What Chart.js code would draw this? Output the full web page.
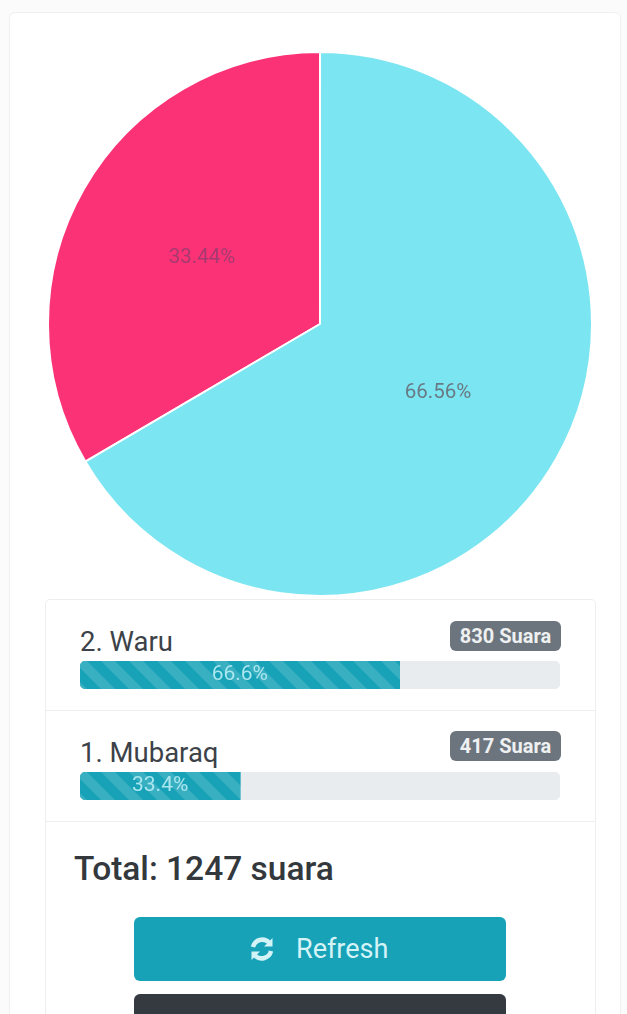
<!DOCTYPE html>
<html lang="id">
<head>
<meta charset="utf-8">
<title>Suara</title>
<script src="https://cdn.jsdelivr.net/npm/chart.js@4"></script>
<style>
  html, body { margin: 0; height: 1014px; overflow: hidden; background: #fbfbfb; font-family: Roboto, sans-serif; color: #343a40; }
  body { position: relative; width: 627px; }
  .card { position: absolute; left: 9px; top: 12px; width: 610px; height: 1010px; background: #fff; border: 1px solid #f0f0f0; border-radius: 6px; }
  .list { position: absolute; left: 45px; top: 599px; width: 549px; height: 440px; border: 1px solid #eeeeee; border-radius: 5px; }
  .sep { position: absolute; left: 45px; width: 550px; height: 1px; background: #eeeeee; }
  canvas { position: absolute; display: block; }
  .name { position: absolute; left: 80px; font-size: 27.5px; line-height: 30px; color: #3c4248; }
  .badge { position: absolute; left: 450px; width: 111px; height: 30px; line-height: 30px; background: #6c757d; border-radius: 6px; color: #eef0f1; font-size: 20px; font-weight: 700; text-align: center; white-space: nowrap; }
  .total { position: absolute; left: 74px; top: 850px; font-size: 33.5px; line-height: 38px; font-weight: 500; color: #33383d; }
  .btn { position: absolute; left: 134px; width: 372px; border-radius: 6px; }
  .refresh { top: 917px; height: 64px; background: #17a2b8; color: #d4f3f7; font-size: 27px; line-height: 64px; }
  .refresh span { position: absolute; left: 162px; }
  .refresh svg { position: absolute; left: 115px; top: 19px; }
  .dark { top: 994px; height: 50px; background: #343a40; }
</style>
</head>
<body>
<div class="card"></div>
<canvas id="pie" width="546" height="546" style="left:47px;top:51px;width:546px;height:546px"></canvas>

<div class="list"></div>
<div class="sep" style="top:710px"></div>
<div class="sep" style="top:821px"></div>

<div class="name" style="top:627px">2. Waru</div>
<div class="badge" style="top:621px">830 Suara</div>
<canvas id="bar0" width="480" height="28" style="left:80px;top:661px;width:480px;height:28px"></canvas>

<div class="name" style="top:738px">1. Mubaraq</div>
<div class="badge" style="top:731px">417 Suara</div>
<canvas id="bar1" width="480" height="28" style="left:80px;top:772px;width:480px;height:28px"></canvas>

<div class="total">Total: 1247 suara</div>
<div class="btn refresh">
  <svg width="26" height="26" viewBox="0 0 26 26" fill="none" stroke="#d4f3f7" stroke-width="4.5">
    <path d="M4 11 A9.5 9.5 0 0 1 20 6.5"/>
    <path d="M22 15 A9.5 9.5 0 0 1 6 19.5"/>
    <path d="M23.5 2 V10.5 H15 Z" fill="#d4f3f7" stroke="none"/>
    <path d="M2.5 24 V15.5 H11 Z" fill="#d4f3f7" stroke="none"/>
  </svg>
  <span>Refresh</span>
</div>
<div class="btn dark"></div>

<script>
const pieLabels = ['1. Mubaraq', '2. Waru'];
const pieVotes = [417, 830];
const pieColors = ['#fb3376', '#7ce5f2'];
const pieLabelColors = ['rgba(130,60,110,0.7)', 'rgba(102,110,120,0.9)'];

const barPercents = [66.6, 33.4];
const barNames = ['2. Waru', '1. Mubaraq'];
const trackValues = [100];

// label each slice with its share, at the middle of the arc
const sliceLabels = {
  id: 'sliceLabels',
  afterDatasetsDraw(chart) {
    const ctx = chart.ctx;
    const total = pieVotes.reduce((a, b) => a + b, 0);
    ctx.save();
    ctx.font = '400 20.5px Roboto';
    ctx.textAlign = 'center';
    ctx.textBaseline = 'middle';
    chart.getDatasetMeta(0).data.forEach((arc, i) => {
      const pos = arc.tooltipPosition();
      ctx.fillStyle = pieLabelColors[i];
      ctx.fillText((pieVotes[i] / total * 100).toFixed(2) + '%', pos.x, pos.y + 1);
    });
    ctx.restore();
  }
};

new Chart(document.getElementById('pie'), {
  type: 'pie',
  data: {
    labels: pieLabels,
    datasets: [{ data: pieVotes, backgroundColor: pieColors, borderColor: '#ffffff', borderWidth: 2 }]
  },
  options: {
    responsive: false,
    animation: false,
    rotation: -120.38,
    plugins: { legend: { display: false }, tooltip: { enabled: false } }
  },
  plugins: [sliceLabels]
});

// same diagonal stripes as a striped progress bar
function stripePattern(ctx) {
  const s = 28;
  const tile = document.createElement('canvas');
  tile.width = s;
  tile.height = s;
  const t = tile.getContext('2d');
  t.fillStyle = '#17a2b8';
  t.fillRect(0, 0, s, s);
  t.strokeStyle = 'rgba(255,255,255,0.15)';
  t.lineWidth = s * 0.354;
  [-s, 0, s].forEach(off => {
    t.beginPath();
    t.moveTo(off - 4, -4);
    t.lineTo(off + s + 4, s + 4);
    t.stroke();
  });
  return ctx.createPattern(tile, 'repeat');
}

const barLabel = {
  id: 'barLabel',
  afterDatasetsDraw(chart) {
    const ctx = chart.ctx;
    const bar = chart.getDatasetMeta(0).data[0];
    ctx.save();
    ctx.font = '400 21px Roboto';
    ctx.fillStyle = '#a9e6ee';
    ctx.textAlign = 'center';
    ctx.textBaseline = 'middle';
    ctx.fillText(chart.data.datasets[0].data[0] + '%', (bar.base + bar.x) / 2, bar.y);
    ctx.restore();
  }
};

function renderProgress(canvasId, name, percent) {
  const canvas = document.getElementById(canvasId);
  const ctx = canvas.getContext('2d');
  return new Chart(ctx, {
    type: 'bar',
    data: {
      labels: [name],
      datasets: [
        {
          data: [percent],
          backgroundColor: stripePattern(ctx),
          borderRadius: { topLeft: 6, bottomLeft: 6, topRight: 0, bottomRight: 0 },
          borderSkipped: false,
          order: 0
        },
        {
          data: trackValues,
          backgroundColor: '#e9ecef',
          borderRadius: 6,
          borderSkipped: false,
          order: 1
        }
      ]
    },
    options: {
      indexAxis: 'y',
      responsive: false,
      animation: false,
      datasets: { bar: { grouped: false, barPercentage: 1, categoryPercentage: 1 } },
      scales: {
        x: { display: false, min: 0, max: 100 },
        y: { display: false }
      },
      plugins: { legend: { display: false }, tooltip: { enabled: false } }
    },
    plugins: [barLabel]
  });
}

barPercents.forEach((p, i) => renderProgress('bar' + i, barNames[i], p));
</script>
</body>
</html>
